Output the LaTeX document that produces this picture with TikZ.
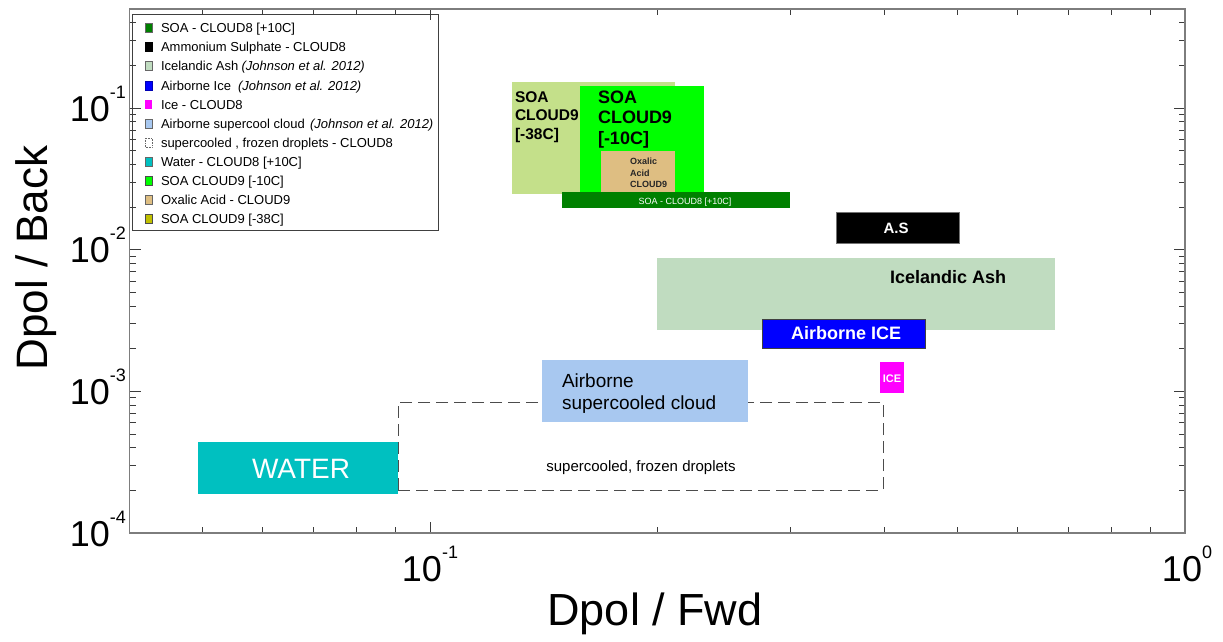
\documentclass[tikz,border=0pt]{standalone}
\usepackage{fontspec}
\setmainfont{Liberation Sans}

\definecolor{soaeight}{RGB}{0,128,0}
\definecolor{soaten}{RGB}{0,255,0}
\definecolor{soathirty}{RGB}{196,224,138}
\definecolor{soaolive}{RGB}{192,192,0}
\definecolor{oxalic}{RGB}{222,190,130}
\definecolor{ashgreen}{RGB}{192,220,192}
\definecolor{iceblue}{RGB}{0,0,255}
\definecolor{icemag}{RGB}{255,0,255}
\definecolor{cloudblue}{RGB}{168,200,240}
\definecolor{watercol}{RGB}{0,192,192}
\definecolor{framecol}{RGB}{125,125,125}
\definecolor{tickcol}{RGB}{60,60,60}

\newcommand\fs[1]{\fontsize{#1}{#1}\selectfont}
\newcommand\tenpow[1]{\fs{36}10\raisebox{23pt}{\fs{18}#1}}

\tikzset{
  area/.style={rectangle, inner sep=0pt, outer sep=0pt, anchor=north west},
  txt/.style={inner sep=0pt, outer sep=0pt},
  legtxt/.style={txt, anchor=base west, font=\fs{13}},
  legref/.style={txt, anchor=base west, font=\fs{13}\itshape},
  legmark/.style={line width=0.6pt},
  tickline/.style={draw=tickcol, line width=0.9pt},
  % legend marker looks
  mk0/.style={fill=soaeight, draw=black!60},
  mk1/.style={fill=black, draw=black},
  mk2/.style={fill=ashgreen, draw=black!60},
  mk3/.style={fill=iceblue, draw=iceblue!70!black},
  mk4/.style={fill=icemag},
  mk5/.style={fill=cloudblue, draw=black!60},
  mk6/.style={fill=white, draw=black!60, densely dotted},
  mk7/.style={fill=watercol, draw=black!60},
  mk8/.style={fill=soaten, draw=black!70},
  mk9/.style={fill=oxalic, draw=black!60},
  mk10/.style={fill=soaolive, draw=black!70},
}

% filled region between two corner points (pixel coordinates)
\newcommand\region[6]{%
  \node[area, #6, minimum width={(#4-#2)*1pt}, minimum height={(#5-#3)*1pt}] (#1) at (#2,#3) {};}

\begin{document}
\begin{tikzpicture}[x=1pt, y=-1pt]
\useasboundingbox (0,0) rectangle (1223,641);
\fill[white] (0,0) rectangle (1223,641);

% ---- data regions ----
\region{frz}{398}{402}{883}{490}{draw=black!70, dash pattern=on 12pt off 6pt, line width=0.9pt}
\region{soaB}{512}{82}{675}{194}{fill=soathirty}
\region{soaT}{580}{86}{704}{193}{fill=soaten}
\region{oxal}{601}{151}{675}{193}{fill=oxalic}
\region{soaE}{562}{192}{790}{208}{fill=soaeight}
\region{asul}{836}{212}{959}{243}{fill=black, draw=black!55, line width=0.8pt}
\region{ash}{657}{258}{1055}{330}{fill=ashgreen}
\region{aice}{762}{319}{925}{348}{fill=iceblue, draw=black!75, line width=0.8pt}
\region{ice}{880}{362}{904}{393}{fill=icemag}
\region{acld}{542}{360}{748}{422}{fill=cloudblue}
\region{water}{198}{442}{398}{494}{fill=watercol}

% ---- region labels ----
\node[txt, anchor=base west, font=\fs{15.5}\bfseries] (t38a) at (515,102) {SOA};
\node[txt, anchor=base west, font=\fs{15.5}\bfseries] (t38b) at (515,120.5) {CLOUD9};
\node[txt, anchor=base west, font=\fs{15.5}\bfseries] (t38c) at (515,139) {[-38C]};

\node[txt, anchor=base west, font=\fs{18}\bfseries] (t10a) at (598,103) {SOA};
\node[txt, anchor=base west, font=\fs{18}\bfseries] (t10b) at (598,123.5) {CLOUD9};
\node[txt, anchor=base west, font=\fs{18}\bfseries] (t10c) at (598,144) {[-10C]};

\node[txt, anchor=base west, font=\fs{9}\bfseries, text=black!85] (toxa) at (630,164.5) {Oxalic};
\node[txt, anchor=base west, font=\fs{9}\bfseries, text=black!85] (toxb) at (630,176) {Acid};
\node[txt, anchor=base west, font=\fs{9}\bfseries, text=black!85] (toxc) at (630,187.5) {CLOUD9};

\node[txt, anchor=base, font=\fs{9}, text=white] (tsoaE) at (685,204) {SOA - CLOUD8 [+10C]};
\node[txt, anchor=base, font=\fs{15}\bfseries, text=white] (tas) at (896,233) {A.S};
\node[txt, anchor=base west, font=\fs{18}\bfseries] (tash) at (890,283) {Icelandic Ash};
\node[txt, anchor=base west, font=\fs{18}\bfseries, text=white] (taice) at (791,339) {Airborne ICE};
\node[txt, anchor=base, font=\fs{11}\bfseries, text=white] (tice) at (892,382) {ICE};
\node[txt, anchor=base west, font=\fs{19}] (tacla) at (562,387) {Airborne};
\node[txt, anchor=base west, font=\fs{19}] (tacld) at (562,409) {supercooled cloud};
\node[txt, anchor=base, font=\fs{28}, text=white] (twater) at (301,478) {WATER};
\node[txt, anchor=base, font=\fs{15}] (tfrz) at (641,471) {supercooled, frozen droplets};

% ---- legend ----
\node[area, draw=black!75, fill=white, line width=0.9pt,
      minimum width=306pt, minimum height=216pt] (legend) at (132,14) {};
\foreach \i/\tx in {
  0/{SOA - CLOUD8 [+10C]},
  1/{Ammonium Sulphate - CLOUD8},
  2/{Icelandic Ash},
  3/{Airborne Ice},
  4/{Ice - CLOUD8},
  5/{Airborne supercool cloud},
  6/{supercooled , frozen droplets - CLOUD8},
  7/{Water - CLOUD8 [+10C]},
  8/{SOA CLOUD9 [-10C]},
  9/{Oxalic Acid - CLOUD9},
  10/{SOA CLOUD9 [-38C]}} {
  \pgfmathsetmacro\yy{28+19.1*\i}
  \path[legmark, mk\i] (145,\yy-4.5) rectangle (152,\yy+4.5);
  \node[legtxt] (leg\i) at (161,\yy+4.7) {\tx};
}
\node[legref] (ref2) at (241.5,{28+19.1*2+4.7}) {(Johnson et al. 2012)};
\node[legref] (ref3) at (238,{28+19.1*3+4.7}) {(Johnson et al. 2012)};
\node[legref] (ref5) at (310,{28+19.1*5+4.7}) {(Johnson et al. 2012)};

% ---- axes frame and ticks ----
% x: 10^-1 at 430, 755 per decade; y: 10^-1 at 108, 141.7 per decade
\foreach \m in {5,6,7,8,9} {
  \pgfmathsetmacro\xp{430+755*(log10(\m)-1)}
  \draw[tickline] (\xp,533) -- (\xp,527);
  \draw[tickline] (\xp,9) -- (\xp,15);
}
\foreach \m in {2,3,4,5,6,7,8,9} {
  \pgfmathsetmacro\xp{430+755*log10(\m)}
  \draw[tickline] (\xp,533) -- (\xp,527);
  \draw[tickline] (\xp,9) -- (\xp,15);
}
\draw[tickline] (430,533) -- (430,522);
\draw[tickline] (430,9) -- (430,20);
\foreach \e in {-4,-3,-2} {
  \foreach \m in {2,3,4,5,6,7,8,9} {
    \pgfmathsetmacro\yp{108-141.7*(\e+1+log10(\m))}
    \draw[tickline] (129.5,\yp) -- (135.5,\yp);
    \draw[tickline] (1185,\yp) -- (1179,\yp);
  }
}
\foreach \m in {2,3,4} {
  \pgfmathsetmacro\yp{108-141.7*log10(\m)}
  \draw[tickline] (129.5,\yp) -- (135.5,\yp);
  \draw[tickline] (1185,\yp) -- (1179,\yp);
}
\foreach \yp in {108,249.7,391.4} {
  \draw[tickline] (129.5,\yp) -- (140.5,\yp);
  \draw[tickline] (1185,\yp) -- (1174,\yp);
}
\node[area, draw=framecol, line width=1.5pt,
      minimum width=1055.5pt, minimum height=524pt] (frame) at (129.5,9) {};

% ---- tick labels ----
\node[txt, anchor=base east] (ym1) at (126,121) {\tenpow{-1}};
\node[txt, anchor=base east] (ym2) at (126,262.7) {\tenpow{-2}};
\node[txt, anchor=base east] (ym3) at (126,404.4) {\tenpow{-3}};
\node[txt, anchor=base east] (ym4) at (126,546) {\tenpow{-4}};
\node[txt, anchor=base] (xm1) at (430,581) {\tenpow{-1}};
\node[txt, anchor=base] (x0) at (1187,581) {\tenpow{0}};

% ---- axis titles ----
\node[txt, anchor=base, rotate=90, font=\fs{44}] (ytitle) at (47,258) {Dpol / Back};
\node[txt, anchor=base, font=\fs{45}] (xtitle) at (655,625) {Dpol / Fwd};
\end{tikzpicture}
\end{document}
